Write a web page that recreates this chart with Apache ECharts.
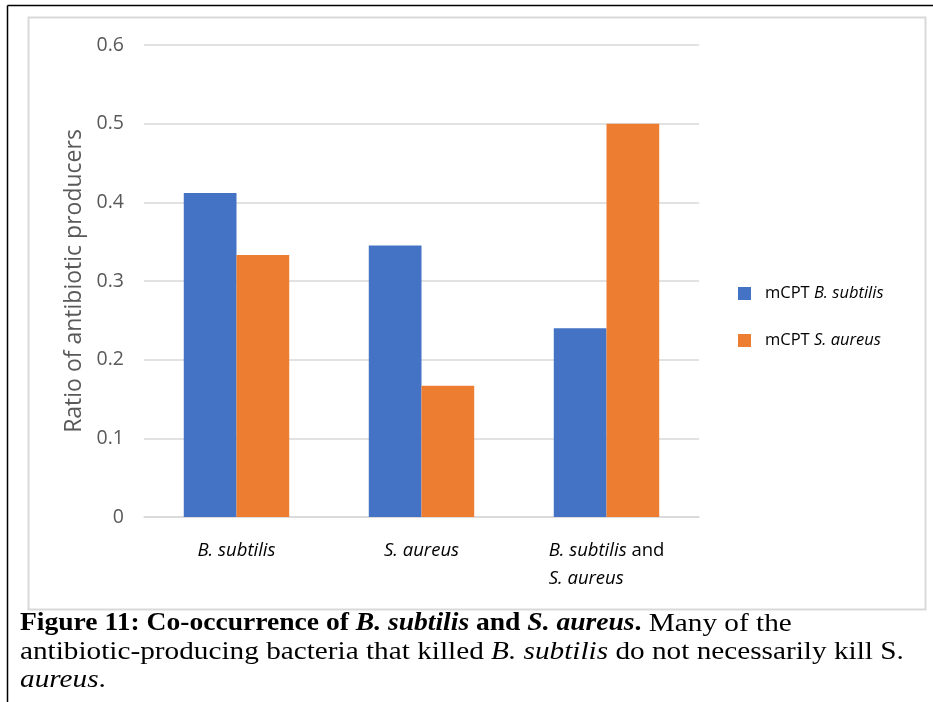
<!DOCTYPE html>
<html>
<head>
<meta charset="utf-8">
<script src="https://cdn.jsdelivr.net/npm/echarts@6/dist/echarts.min.js"></script>
<style>
  html, body { margin: 0; padding: 0; background: #fff; }
  #chart { width: 933px; height: 702px; }
</style>
</head>
<body>
<div id="chart"></div>
<script>
// Categories along the x axis
const categories = ['B. subtilis', 'S. aureus', 'B. subtilis and S. aureus'];
// Series names and their ratios of antibiotic producers
const seriesNames = ['mCPT B. subtilis', 'mCPT S. aureus'];
const bsubtilisValues = [0.412, 0.345, 0.240];
const saureusValues = [0.333, 0.167, 0.500];
// Y axis range and step
const yMin = 0;
const yMax = 0.6;
const yStep = 0.1;

const LABEL_FONT = '"Open Sans", Lato, sans-serif';
const SERIF = '"Liberation Serif", "DejaVu Serif", serif';

// Italicise species names in a label and keep the rest upright
function speciesRich(text) {
  if (text.indexOf(' and ') >= 0) {
    const parts = text.split(' and ');
    return '{i|' + parts[0] + '}{n| and}\n{i|' + parts[1] + '}';
  }
  return '{i|' + text + '}';
}

const captionStyle = function (weight, style, size) {
  return { fontFamily: SERIF, fontSize: size, fontWeight: weight, fontStyle: style, fill: '#000', lineHeight: 28, align: 'left' };
};

const captionText =
  '{b|Figure 11: Co-occurrence of }{bi|B. subtilis}{b| and }{bi|S. aureus}{b|.}{n| Many of the}\n' +
  '{n|antibiotic-producing bacteria that killed }{it|B. subtilis}{n| do not necessarily kill S.}\n' +
  '{it|aureus}{n|.}';

const chart = echarts.init(document.getElementById('chart'));

chart.setOption({
  animation: false,
  backgroundColor: '#ffffff',
  color: ['#4472C4', '#ED7D31'],
  grid: { left: 144, right: 234, top: 45, bottom: 185, containLabel: false },
  legend: {
    orient: 'vertical',
    left: 733,
    top: 280,
    itemWidth: 13,
    itemHeight: 13,
    itemGap: 30,
    icon: 'rect',
    formatter: function (name) {
      return '{n|mCPT }{i|' + name.replace('mCPT ', '') + '}';
    },
    textStyle: {
      padding: [0, 0, 0, 9],
      rich: {
        n: { fontFamily: LABEL_FONT, fontSize: 16.5, color: '#000' },
        i: { fontFamily: LABEL_FONT, fontSize: 16.5, fontStyle: 'italic', color: '#000' }
      }
    },
    data: seriesNames
  },
  xAxis: {
    type: 'category',
    data: categories,
    axisLine: { show: true, lineStyle: { color: '#d9d9d9', width: 1.5 } },
    axisTick: { show: false },
    axisLabel: {
      margin: 20,
      formatter: speciesRich,
      rich: {
        i: { fontFamily: LABEL_FONT, fontSize: 18.5, fontStyle: 'italic', color: '#000', lineHeight: 28, align: 'left' },
        n: { fontFamily: LABEL_FONT, fontSize: 18.5, color: '#000', lineHeight: 28, align: 'left' }
      }
    }
  },
  yAxis: {
    type: 'value',
    min: yMin,
    max: yMax,
    interval: yStep,
    name: 'Ratio of antibiotic producers',
    nameLocation: 'middle',
    nameGap: 57,
    nameTextStyle: { fontFamily: LABEL_FONT, fontSize: 23, color: '#595959' },
    axisLine: { show: false },
    axisTick: { show: false },
    axisLabel: {
      margin: 20,
      fontFamily: LABEL_FONT,
      fontSize: 19.5,
      color: '#595959',
      formatter: function (v) { return v === 0 ? '0' : v.toFixed(1); }
    },
    splitLine: { lineStyle: { color: '#d9d9d9', width: 1.5 } }
  },
  series: [
    { name: seriesNames[0], type: 'bar', data: bsubtilisValues, barGap: '0%', barCategoryGap: '43%' },
    { name: seriesNames[1], type: 'bar', data: saureusValues, barGap: '0%', barCategoryGap: '43%' }
  ],
  graphic: [
    // Outer page frame (left and top edges)
    { type: 'line', shape: { x1: 7.5, y1: 5.5, x2: 933, y2: 5.5 }, style: { stroke: '#000', lineWidth: 1.5 }, silent: true },
    { type: 'line', shape: { x1: 7.5, y1: 5.5, x2: 7.5, y2: 702 }, style: { stroke: '#000', lineWidth: 1.5 }, silent: true },
    // Chart area border
    { type: 'rect', shape: { x: 28.5, y: 17.5, width: 897, height: 592 }, style: { fill: 'none', stroke: '#d9d9d9', lineWidth: 2 }, silent: true, z: -1 },
    // Figure caption, widened to the book face proportions
    {
      type: 'text',
      x: 20,
      y: 610,
      scaleX: 1.125,
      silent: true,
      style: {
        text: captionText,
        fill: '#000',
        font: '26px ' + SERIF,
        rich: {
          b: captionStyle('bold', 'normal', 24.5),
          bi: captionStyle('bold', 'italic', 24.5),
          n: captionStyle('normal', 'normal', 26),
          it: captionStyle('normal', 'italic', 26)
        }
      }
    }
  ]
});
</script>
</body>
</html>
